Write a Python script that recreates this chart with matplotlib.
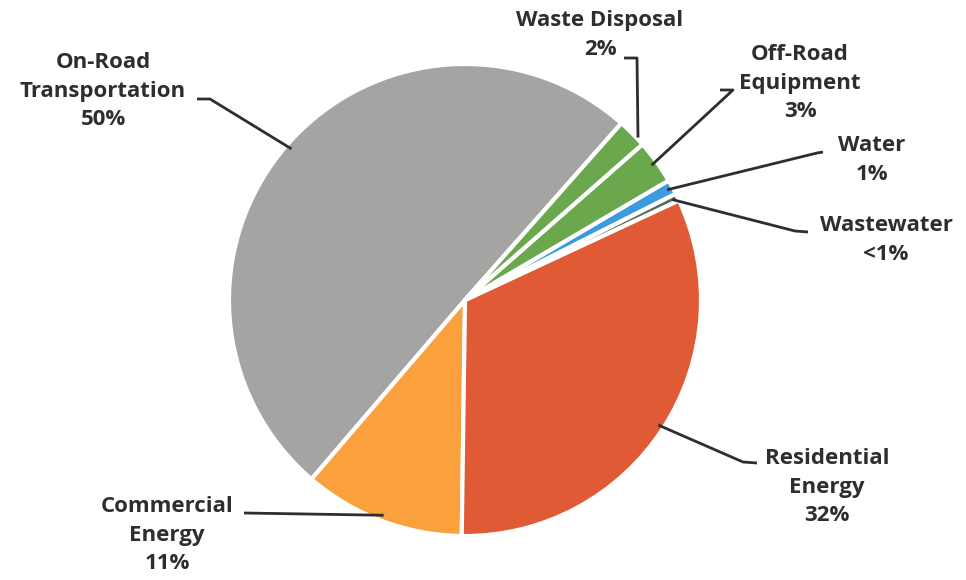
import numpy as np
import matplotlib
matplotlib.use("Agg")
import matplotlib.pyplot as plt

# ---- data ----
categories = ["On-Road\nTransportation", "Commercial\nEnergy", "Residential\nEnergy",
              "Wastewater", "Water", "Off-Road\nEquipment", "Waste Disposal"]
shares = [50, 11, 32, 0.5, 1, 3, 2]
pct_labels = ["50%", "11%", "32%", "<1%", "1%", "3%", "2%"]
colors = ["#A4A4A2", "#FAA03C", "#E05B35", "#5B6A55", "#3C9BDE", "#6BA84D", "#6BA84D"]
explode = [0.012, 0.015, 0.025, 0.07, 0.07, 0.07, 0.055]

W, H = 966, 580
fig = plt.figure(figsize=(W / 100, H / 100), dpi=100)
ax = fig.add_axes([0, 0, 1, 1])

def P(x, y):
    return (x, H - y)

cx, cy = P(465, 300)
R = 236
wedges, _ = ax.pie(shares, colors=colors, explode=explode, startangle=48.5,
                   counterclock=True, center=(cx, cy), radius=R, frame=True,
                   wedgeprops=dict(edgecolor="white", linewidth=3))
ax.set_xlim(0, W)
ax.set_ylim(0, H)
ax.set_aspect("equal")
ax.axis("off")

# label layout in pixel coords: text block center, elbow point, horizontal end
layout = {
    0: dict(text=(103, 91), elbow=(210, 99), end=(197, 99)),
    1: dict(text=(167, 535), elbow=(244, 513), end=(244, 513)),
    2: dict(text=(827, 487), elbow=(743, 462), end=(757, 463)),
    3: dict(text=(886, 240), elbow=(795, 231), end=(808, 232)),
    4: dict(text=(872, 160), elbow=(817, 153), end=(823, 152)),
    5: dict(text=(800, 83), elbow=(733, 90), end=(720, 90)),
    6: dict(text=(600, 35), elbow=(637, 58), end=(624, 58)),
}

font = dict(family=["Open Sans", "DejaVu Sans"], fontweight="bold", fontsize=16,
            color="#2e2e2e")
lc = "#2e2e2e"
for i, w in enumerate(wedges):
    mid = np.deg2rad((w.theta1 + w.theta2) / 2)
    wx, wy = w.center
    tip = (wx + 0.975 * w.r * np.cos(mid), wy + 0.975 * w.r * np.sin(mid))
    L = layout[i]
    ex, ey = P(*L["elbow"])
    hx, hy = P(*L["end"])
    if i == 6:
        ax.plot([hx, ex, ex + 1], [hy, ey, tip[1]], color=lc, lw=2,
                solid_capstyle="butt")
    else:
        ax.plot([tip[0], ex, hx], [tip[1], ey, hy], color=lc, lw=2,
                solid_capstyle="butt")
    tx, ty = P(*L["text"])
    ax.text(tx, ty, categories[i] + "\n" + pct_labels[i], ha="center", va="center",
            linespacing=1.45, **font)

fig.savefig("out.png", dpi=100, facecolor="white")
